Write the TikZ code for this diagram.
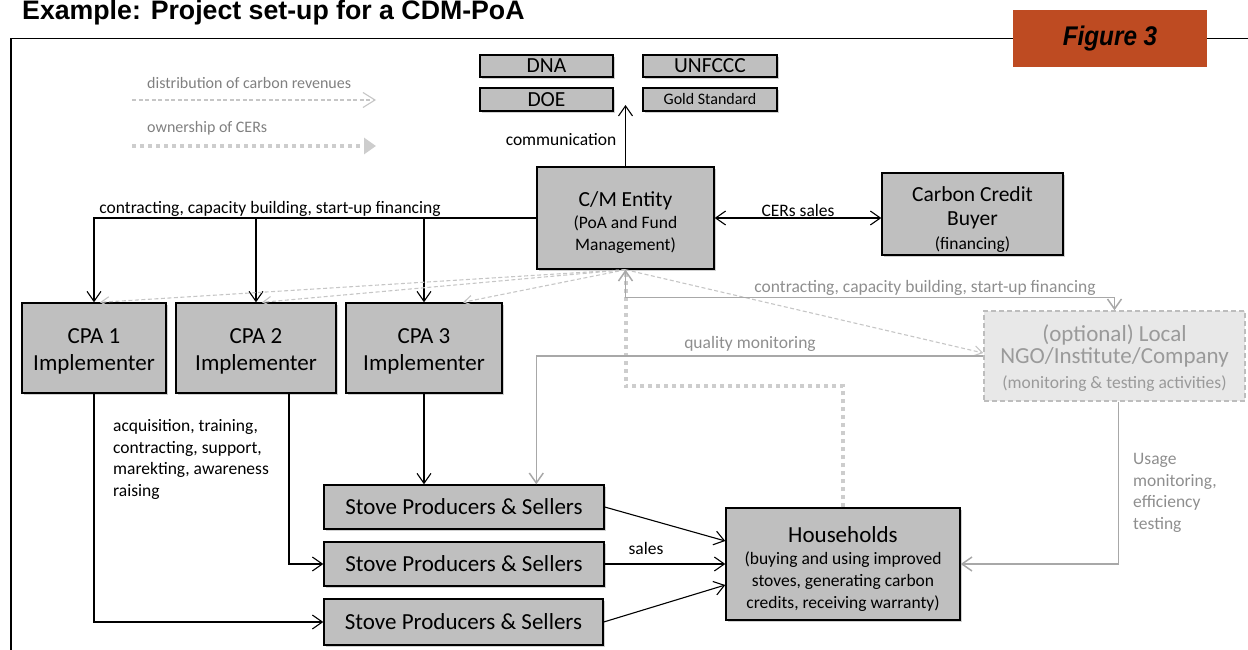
\documentclass[tikz,border=0pt]{standalone}
\usepackage{graphicx}
\usepackage{fontspec}
\setmainfont{Carlito}
\newfontfamily\arialfont{Liberation Sans}
\usetikzlibrary{arrows.meta,shadows,calc}
\definecolor{boxgray}{HTML}{BFBFBF}
\definecolor{figred}{HTML}{BE4B22}
\definecolor{linegray}{HTML}{A8A8A8}
\definecolor{dashgray}{HTML}{C6C6C6}
\definecolor{dotgray}{HTML}{CDCDCD}
\definecolor{txtgray}{HTML}{808080}
\definecolor{lbltxt}{HTML}{8E8E8E}
\definecolor{ngofill}{HTML}{E8E8E8}
\definecolor{ngoedge}{HTML}{BDBDBD}
\definecolor{ngotext}{HTML}{9A9A9A}
\newcommand\myBig{\fontsize{23}{27}\selectfont}
\newcommand\myBigB{\fontsize{21.5}{25}\selectfont}
\newcommand\myMid{\fontsize{17.5}{22}\selectfont}
\newcommand\mySmall{\fontsize{16}{20}\selectfont}
\newcommand\topstrut[1]{\rule{0pt}{#1}}
\begin{document}
\begin{tikzpicture}[x=1pt,y=-1pt,
  box/.style={draw=black, line width=1.4pt, fill=boxgray, inner sep=0pt, align=center,
    drop shadow={shadow xshift=2pt, shadow yshift=-2pt, opacity=0.3, fill=black!60}},
  ngobox/.style={draw=ngoedge, dashed, dash pattern=on 5pt off 3pt, line width=1.4pt, fill=ngofill, inner sep=0pt, align=center, text=ngotext},
  blk/.style={draw=black, line width=1.1pt},
  barb/.style={-{Straight Barb[length=10pt,width=14pt]}},
  dbarb/.style={{Straight Barb[length=10pt,width=14pt]}-{Straight Barb[length=10pt,width=14pt]}},
  gry/.style={draw=linegray, line width=1.5pt},
  dsh/.style={draw=dashgray, line width=1.1pt, dash pattern=on 4pt off 2.5pt, -{Straight Barb[length=8pt,width=10pt]}},
  dot/.style={draw=dotgray, line width=4pt, dash pattern=on 4pt off 4pt},
  lbl/.style={inner sep=0pt, font=\myMid},
  glbl/.style={inner sep=0pt, font=\myMid, text=lbltxt},
]
\useasboundingbox (0,0) rectangle (1248,650);

% title and frame
\node[anchor=base west, inner sep=0pt, font=\arialfont\bfseries\fontsize{26.7}{30}\selectfont] (title) at (22,20) {Example: Project set-up for a CDM-PoA};
\node[fill=figred, minimum width=194pt, minimum height=57pt, inner sep=0pt] (fig) at (1110,38.5)
  {\arialfont\bfseries\itshape\fontsize{27}{30}\selectfont\scalebox{0.9}[1]{Figure 3}};
\draw[black, line width=1.6pt] (11,650) |- (fig.west);
\draw[black, line width=1.6pt] (fig.east) -- (1248,38.5);

% legend
\node[anchor=west, inner sep=0pt, text=txtgray, font=\mySmall] (lg1) at (147,83) {distribution of carbon revenues};
\node[anchor=west, inner sep=0pt, text=txtgray, font=\mySmall] (lg2) at (147,128) {ownership of CERs};
\coordinate (l1a) at (132,100);
\coordinate (l1b) at (376,100);
\coordinate (l2a) at (132,146);
\coordinate (l2b) at (376,146);
\draw[draw=dashgray, line width=1.1pt, dash pattern=on 4pt off 2.5pt, -{Straight Barb[length=12pt,width=15pt]}] (l1a) -- (l1b);
\draw[dot, -{Triangle[length=12pt,width=16pt]}] (l2a) -- (l2b);

% top boxes
\node[box, minimum width=133pt, minimum height=22pt, font=\myBigB] (dna) at (546.5,66) {DNA};
\node[box, minimum width=134pt, minimum height=22pt, font=\myBigB] (unfccc) at (710,66) {UNFCCC};
\node[box, minimum width=133pt, minimum height=23pt, font=\myBigB] (doe) at (546.5,99.5) {DOE};
\node[box, minimum width=134pt, minimum height=23pt, font=\mySmall] (gold) at (710,99.5) {Gold Standard};

% main boxes
\node[box, minimum width=177pt, minimum height=102pt, font=\myMid] (cm) at (625.5,218)
  {\topstrut{24pt}{\myBigB C/M Entity}\\(PoA and Fund\\Management)};
\node[box, minimum width=181pt, minimum height=82pt, font=\fontsize{17.5}{24}\selectfont] (buyer) at (972.5,214)
  {\topstrut{27pt}{\myBigB Carbon Credit}\\{\myBigB Buyer}\\(financing)};
\node[box, minimum width=144pt, minimum height=90pt, font=\myBig] (cpa1) at (94,348) {\topstrut{21pt}CPA 1\\Implementer};
\node[box, minimum width=160pt, minimum height=90pt, font=\myBig] (cpa2) at (256,348) {\topstrut{21pt}CPA 2\\Implementer};
\node[box, minimum width=156pt, minimum height=90pt, font=\myBig] (cpa3) at (424,348) {\topstrut{21pt}CPA 3\\Implementer};
\node[ngobox, minimum width=261pt, minimum height=90pt, font=\myMid] (ngo) at (1114.5,356)
  {\topstrut{22pt}{\myBig (optional) Local}\\{\myBig NGO/Institute/Company}\\[3pt](monitoring \& testing activities)};
\node[box, minimum width=280pt, minimum height=44pt, font=\myBig] (stove1) at (464,507) {Stove Producers \& Sellers};
\node[box, minimum width=280pt, minimum height=44pt, font=\myBig] (stove2) at (464,564) {Stove Producers \& Sellers};
\node[box, minimum width=279pt, minimum height=46pt, font=\myBig] (stove3) at (463.5,622) {Stove Producers \& Sellers};
\node[box, minimum width=234pt, minimum height=112pt, font=\myMid] (hh) at (843,564)
  {\topstrut{26pt}{\myBig Households}\\(buying and using improved\\stoves, generating carbon\\credits, receiving warranty)};

% ownership of CERs (dotted)
\draw[dot] (hh.north) -- ++(0,-121) -| (cm.south);

% communication
\coordinate (comtip) at (625.5,105);
\draw[blk, barb] (cm.north) -- (comtip);
\node[lbl] (lcomm) at (561,140) {communication};

% CERs sales
\draw[blk, dbarb] (cm.east) -- (cm.east -| buyer.west);
\node[lbl] (lcers) at (798,210) {CERs sales};

% contracting (black)
\draw[blk, barb] (cm.west) -| (cpa1.north);
\draw[blk, barb] (cm.west -| cpa2.north) -- (cpa2.north);
\draw[blk, barb] (cm.west -| cpa3.north) -- (cpa3.north);
\node[lbl] (lcontr) at (270,209) {contracting, capacity building, start-up financing};

% distribution of carbon revenues (dashed)
\draw[dsh] (cm.south) -- ([xshift=6pt]cpa1.north);
\draw[dsh] (cm.south) -- ([xshift=6pt]cpa2.north);
\draw[dsh] (cm.south) -- ([xshift=39pt]cpa3.north);
\draw[dsh] (cm.south) -- ([yshift=3pt]ngo.west);

% gray contracting to NGO
\draw[gry, dbarb] (cm.south) -- ++(0,28) -| (ngo.north);
\node[glbl] (lcontr2) at (925,288) {contracting, capacity building, start-up financing};

% quality monitoring
\draw[gry, barb] (ngo.west) -| (stove1.north -| cm.west);
\node[glbl] (lqual) at (750,344) {quality monitoring};

% usage monitoring
\draw[gry, barb] ([xshift=4pt]ngo.south) |- (hh.east);
\node[glbl, anchor=north west, align=left, font=\fontsize{17.5}{21.7}\selectfont] (lusage) at (1133,453) {Usage\\monitoring,\\efficiency\\testing};

% CPA to stove producers
\draw[blk, barb] (cpa1.south) |- (stove3.west);
\draw[blk, barb] ([xshift=33pt]cpa2.south) |- (stove2.west);
\draw[blk, barb] (cpa3.south) -- (cpa3.south |- stove1.north);
\node[lbl, anchor=north west, align=left, font=\fontsize{17.5}{21.5}\selectfont] (lacq) at (113,419.5)
  {acquisition, training,\\contracting, support,\\marekting, awareness\\raising};

% sales
\draw[blk, barb] (stove1.east) -- ([yshift=23pt]hh.west);
\draw[blk, barb] (stove2.east) -- (stove2.east -| hh.west);
\draw[blk, barb] (stove3.east) -- ([yshift=-21pt]hh.west);
\node[lbl] (lsales) at (646,548) {sales};
\end{tikzpicture}
\end{document}
